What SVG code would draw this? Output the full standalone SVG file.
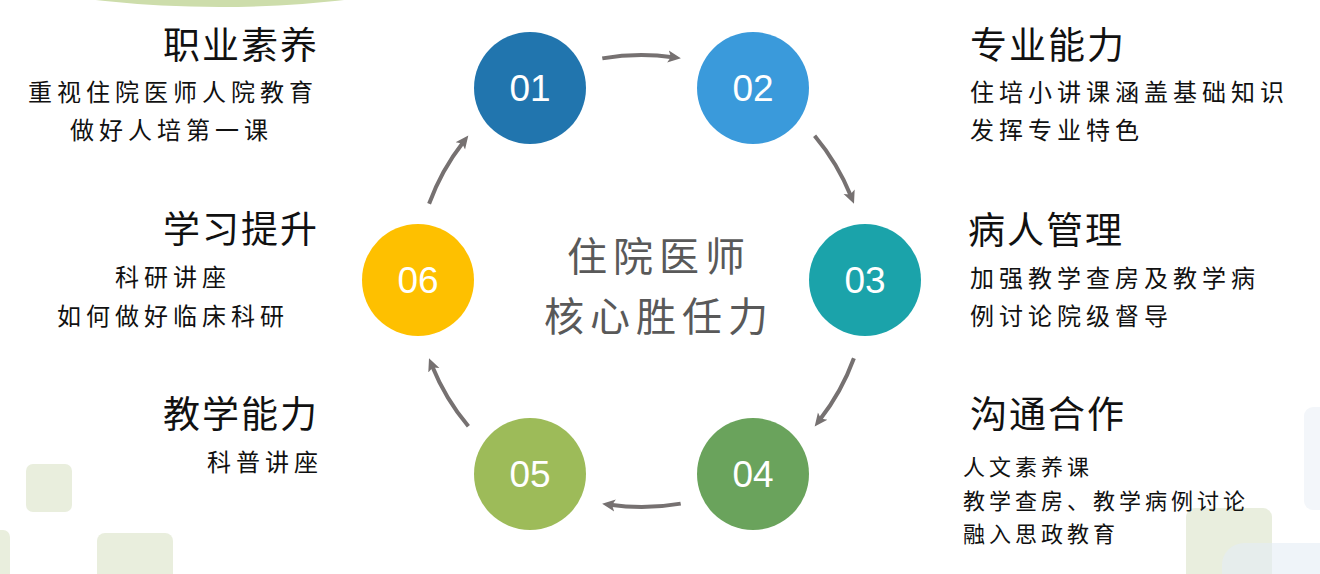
<svg xmlns="http://www.w3.org/2000/svg" width="1320" height="574" viewBox="0 0 1320 574">
<style>
.num{font-family:"Liberation Sans",Arial,sans-serif;font-size:37px;fill:#ffffff;text-anchor:middle}
.ttl{font-family:"Noto Sans CJK SC",sans-serif;font-size:37px;fill:#111111;letter-spacing:2px}
.sub{font-family:"Noto Sans CJK SC",sans-serif;font-size:24px;fill:#111111;letter-spacing:5px}
.sub2{font-family:"Noto Sans CJK SC",sans-serif;font-size:22px;fill:#111111;letter-spacing:4px}
.ctr{font-family:"Noto Sans CJK SC",sans-serif;font-size:40px;fill:#595959;letter-spacing:6px;text-anchor:middle}
.arr{fill:none;stroke:#767171;stroke-width:4;marker-end:url(#ah)}
</style>
<defs>
<marker id="ah" markerUnits="userSpaceOnUse" markerWidth="14" markerHeight="14" viewBox="0 0 14 14" refX="5" refY="7" orient="auto">
<path d="M0,1 L13,7 L0,13 L3,7 z" fill="#767171"/>
</marker>
</defs>
<rect width="1320" height="574" fill="#ffffff"/>
<g id="background">
<ellipse cx="220" cy="-71" rx="300" ry="78" fill="#CDDDAB"/>
<rect x="26" y="464" width="46" height="48" rx="7" fill="#E9EEDD"/>
<rect x="-40" y="530" width="50" height="80" rx="7" fill="#E9EEDD"/>
<rect x="97" y="533" width="76" height="70" rx="8" fill="#E9EEDD"/>
<rect x="1304" y="407" width="60" height="103" rx="9" fill="#F3F6FA"/>
<rect x="1186" y="508" width="86" height="90" rx="9" fill="#E9EEDE"/>
<rect x="1222" y="543" width="140" height="60" rx="22" fill="#E4ECF5" fill-opacity="0.6"/>
</g>
<g id="connectors">
<path class="arr" d="M602.3,58.4 A226,226 0 0 1 672.95,57.2"/>
<path class="arr" d="M814.6,135.7 A226,226 0 0 1 851.0,196.3"/>
<path class="arr" d="M853.9,358.3 A226,226 0 0 1 819.6,420.1"/>
<path class="arr" d="M680.7,503.6 A226,226 0 0 1 610.05,504.8"/>
<path class="arr" d="M468.4,426.3 A226,226 0 0 1 432.0,365.7"/>
<path class="arr" d="M429.1,203.7 A226,226 0 0 1 463.4,141.9"/>
</g>
<g id="node-01"><circle cx="530" cy="88" r="56" fill="#2175AE"/><text class="num" x="530" y="101">01</text></g>
<g id="node-02"><circle cx="753" cy="88" r="56" fill="#3A9ADB"/><text class="num" x="753" y="101">02</text></g>
<g id="node-03"><circle cx="865" cy="280" r="56" fill="#1BA3AA"/><text class="num" x="865" y="293">03</text></g>
<g id="node-04"><circle cx="753" cy="474" r="56" fill="#6AA35C"/><text class="num" x="753" y="487">04</text></g>
<g id="node-05"><circle cx="530" cy="474" r="56" fill="#9DBB59"/><text class="num" x="530" y="487">05</text></g>
<g id="node-06"><circle cx="418" cy="280" r="56" fill="#FEC000"/><text class="num" x="418" y="293">06</text></g>
<g id="center-title">
<text class="ctr" x="659" y="271">住院医师</text>
<text class="ctr" x="659" y="331">核心胜任力</text>
</g>
<g id="label-01">
<text class="ttl" x="163" y="59">职业素养</text>
<text class="sub" x="28" y="101">重视住院医师人院教育</text>
<text class="sub" x="70" y="139">做好人培第一课</text>
</g>
<g id="label-06">
<text class="ttl" x="163" y="243">学习提升</text>
<text class="sub" x="115" y="286">科研讲座</text>
<text class="sub" x="57" y="325">如何做好临床科研</text>
</g>
<g id="label-05">
<text class="ttl" x="163" y="428">教学能力</text>
<text class="sub" x="207" y="471">科普讲座</text>
</g>
<g id="label-02">
<text class="ttl" x="970" y="59">专业能力</text>
<text class="sub" x="970" y="101">住培小讲课涵盖基础知识</text>
<text class="sub" x="970" y="139">发挥专业特色</text>
</g>
<g id="label-03">
<text class="ttl" x="968" y="244">病人管理</text>
<text class="sub" x="970" y="287">加强教学查房及教学病</text>
<text class="sub" x="970" y="325">例讨论院级督导</text>
</g>
<g id="label-04">
<text class="ttl" x="970" y="428">沟通合作</text>
<text class="sub2" x="963" y="475">人文素养课</text>
<text class="sub2" x="963" y="509">教学查房、教学病例讨论</text>
<text class="sub2" x="963" y="542">融入思政教育</text>
</g>
</svg>
